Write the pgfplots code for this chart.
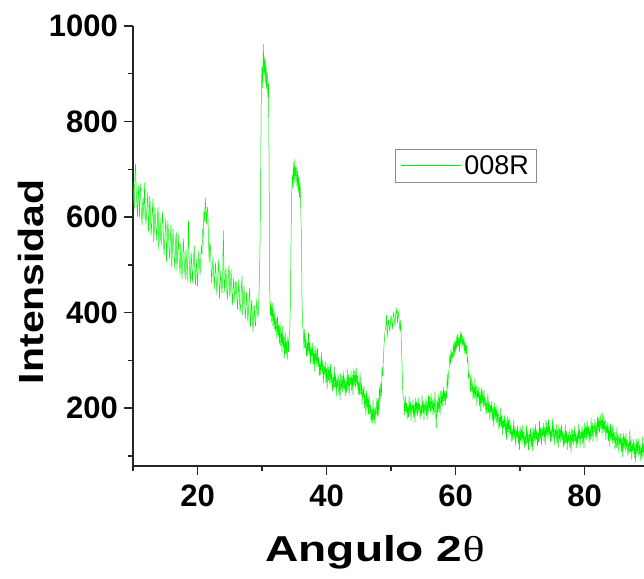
\documentclass[border=0pt]{standalone}
\usepackage{fontspec}
\setmainfont{Liberation Sans}
\newfontfamily\thetafont{Liberation Serif}
\usepackage{graphicx}
\usepackage{pgfplots}
\pgfplotsset{compat=1.18}
\definecolor{xrdgreen}{RGB}{0,245,0}

\begin{document}
\begin{tikzpicture}
\begin{axis}[
  scale only axis, width=511pt, height=440pt,
  xmin=10, xmax=89.2, ymin=79, ymax=1000,
  axis lines*=left,
  axis line style={line width=1.6pt, black!85},
  xtick={20,40,60,80}, ytick={200,400,600,800,1000},
  minor xtick={10,30,50,70}, minor ytick={100,300,500,700,900},
  tick align=outside,
  major tick length=9pt, minor tick length=5pt,
  every tick/.style={line width=1.4pt, black!85},
  scaled ticks=false,
  /pgf/number format/1000 sep={},
  /pgf/number format/assume math mode=true,
  ticklabel style={font=\bfseries\fontsize{31}{31}\selectfont, inner sep=0pt},
  yticklabel style={anchor=east, xshift=-6pt},
  xticklabel style={anchor=north, yshift=-10pt},
  xlabel={\scalebox{1.28}[1]{\bfseries\fontsize{36}{36}\selectfont Angulo 2{\mdseries\thetafont θ}}},
  ylabel={\scalebox{1.17}[1]{\bfseries\fontsize{35}{35}\selectfont Intensidad}},
  xlabel style={at={(axis description cs:0.4736,-0.218)}, anchor=base, inner sep=0pt},
  ylabel style={at={(axis description cs:-0.2,0.419)}, anchor=center, inner sep=0pt},
  legend style={at={(axis description cs:0.513,0.720)}, anchor=north west,
    draw=black!45, line width=0.8pt, fill=white,
    font=\mdseries\fontsize{27}{27}\selectfont,
    inner xsep=5pt, inner ysep=3pt, nodes={inner sep=3pt}},
  legend image code/.code={\draw[#1,line width=0.8pt] (0pt,0pt) -- (60pt,0pt);},
]
% diffractogram of sample 008R, intensity against 2theta
\addplot[xrdgreen, line width=0.5pt] coordinates {
(10.0,672)(10.1,640)(10.2,618)(10.3,690)(10.4,712)(10.5,655)(10.6,626)(10.7,601)(10.8,668)(10.9,645)
(11.0,598)(11.1,672)(11.2,655)(11.3,610)(11.4,583)(11.5,630)(11.6,640)(11.7,596)(11.8,672)(11.9,620)
(12.0,585)(12.1,604)(12.2,628)(12.3,652)(12.4,570)(12.5,598)(12.6,644)(12.7,612)(12.8,560)(12.9,585)
(13.0,615)(13.1,638)(13.2,548)(13.3,572)(13.4,622)(13.5,590)(13.6,575)(13.7,548)(13.8,604)(13.9,622)
(14.0,530)(14.1,566)(14.2,598)(14.3,552)(14.4,545)(14.5,590)(14.6,612)(14.7,560)(14.8,520)(14.9,548)
(15.0,575)(15.1,598)(15.2,505)(15.3,540)(15.4,592)(15.5,566)(15.6,530)(15.7,512)(15.8,560)(15.9,585)
(16.0,496)(16.1,530)(16.2,575)(16.3,548)(16.4,512)(16.5,490)(16.6,548)(16.7,570)(16.8,488)(16.9,515)
(17.0,566)(17.1,530)(17.2,502)(17.3,478)(17.4,545)(17.5,520)(17.6,470)(17.7,505)(17.8,555)(17.9,528)
(18.0,490)(18.1,470)(18.2,532)(18.3,512)(18.4,465)(18.5,520)(18.6,592)(18.7,515)(18.8,480)(18.9,462)
(19.0,527)(19.1,505)(19.2,462)(19.3,490)(19.4,518)(19.5,540)(19.6,475)(19.7,458)(19.8,512)(19.9,490)
(20.0,455)(20.1,488)(20.2,530)(20.3,505)(20.4,478)(20.5,512)(20.6,540)(20.7,522)(20.8,575)(20.9,560)
(21.0,612)(21.1,590)(21.2,640)(21.3,612)(21.4,585)(21.5,622)(21.6,610)(21.7,560)(21.8,505)(21.9,545)
(22.0,540)(22.1,498)(22.2,462)(22.3,495)(22.4,515)(22.5,478)(22.6,450)(22.7,482)(22.8,505)(22.9,470)
(23.0,438)(23.1,465)(23.2,492)(23.3,512)(23.4,430)(23.5,455)(23.6,488)(23.7,462)(23.8,440)(23.9,478)
(24.0,572)(24.1,490)(24.2,443)(24.3,470)(24.4,495)(24.5,462)(24.6,427)(24.7,450)(24.8,485)(24.9,500)
(25.0,433)(25.1,452)(25.2,490)(25.3,458)(25.4,415)(25.5,440)(25.6,473)(25.7,448)(25.8,420)(25.9,465)
(26.0,465)(26.1,430)(26.2,407)(26.3,440)(26.4,470)(26.5,428)(26.6,400)(26.7,418)(26.8,451)(26.9,478)
(27.0,395)(27.1,420)(27.2,457)(27.3,425)(27.4,387)(27.5,410)(27.6,443)(27.7,415)(27.8,380)(27.9,405)
(28.0,435)(28.1,452)(28.2,370)(28.3,398)(28.4,427)(28.5,395)(28.6,360)(28.7,385)(28.8,415)(28.9,382)
(29.0,372)(29.1,405)(29.2,430)(29.3,398)(29.4,392)(29.5,428)(29.6,470)(29.7,560)(29.8,700)
(29.9,880)(30.0,915)(30.1,870)(30.2,962)(30.3,900)(30.4,935)(30.5,880)(30.6,925)(30.7,868)(30.8,905)
(30.9,850)(31.0,880)(31.1,700)(31.2,430)(31.3,392)(31.4,425)(31.5,380)(31.6,420)(31.7,372)(31.8,405)
(31.9,365)(32.0,402)(32.1,360)(32.2,388)(32.3,345)(32.4,392)(32.5,350)(32.6,375)(32.7,335)(32.8,380)
(32.9,330)(33.0,362)(33.1,318)(33.2,372)(33.3,325)(33.4,350)(33.5,305)(33.6,358)(33.7,312)(33.8,340)
(33.9,300)(34.0,352)(34.1,318)(34.2,345)(34.3,365)(34.4,420)(34.5,560)
(34.6,650)(34.7,690)(34.8,660)(34.9,715)(35.0,672)(35.1,722)(35.2,680)(35.3,705)(35.4,665)
(35.5,698)(35.6,650)(35.7,688)(35.8,640)(35.9,672)(36.0,620)(36.1,560)(36.2,420)(36.3,372)
(36.4,360)(36.5,323)(36.6,365)(36.7,326)(36.8,346)(36.9,308)(37.0,337)(37.1,309)(37.2,357)(37.3,312)
(37.4,339)(37.5,292)(37.6,328)(37.7,309)(37.8,336)(37.9,291)(38.0,322)(38.1,277)(38.2,331)(38.3,294)
(38.4,322)(38.5,285)(38.6,326)(38.7,287)(38.8,307)(38.9,268)(39.0,297)(39.1,269)(39.2,317)(39.3,273)
(39.4,300)(39.5,253)(39.6,289)(39.7,270)(39.8,298)(39.9,253)(40.0,284)(40.1,240)(40.2,294)(40.3,258)
(40.4,286)(40.5,250)(40.6,292)(40.7,253)(40.8,274)(40.9,235)(41.0,265)(41.1,238)(41.2,287)(41.3,243)
(41.4,271)(41.5,225)(41.6,262)(41.7,244)(41.8,272)(41.9,228)(42.0,260)(42.1,217)(42.2,273)(42.3,238)
(42.4,268)(42.5,234)(42.6,277)(42.7,240)(42.8,263)(42.9,226)(43.0,257)(43.1,232)(43.2,283)(43.3,240)
(43.4,270)(43.5,226)(43.6,265)(43.7,249)(43.8,279)(43.9,236)(44.0,270)(44.1,227)(44.2,283)(44.3,248)
(44.4,278)(44.5,243)(44.6,285)(44.7,246)(44.8,267)(44.9,228)(45.0,257)(45.1,228)(45.2,275)(45.3,229)
(45.4,255)(45.5,207)(45.6,242)(45.7,221)(45.8,247)(45.9,200)(46.0,230)(46.1,184)(46.2,237)(46.3,199)
(46.4,226)(46.5,188)(46.6,228)(46.7,189)(46.8,208)(46.9,169)(47.0,197)(47.1,169)(47.2,217)(47.3,172)
(47.4,199)(47.5,165)(47.6,201)(47.7,188)(47.8,222)(47.9,183)(48.0,221)(48.1,182)(48.2,243)(48.3,215)
(48.4,252)(48.5,225)(48.6,286)(48.7,267)(48.8,300)(48.9,330)(49.0,350)
(49.1,365)(49.2,372)(49.3,395)(49.4,348)(49.5,368)(49.6,385)(49.7,372)(49.8,360)(49.9,378)(50.0,395)
(50.1,380)(50.2,365)(50.3,388)(50.4,402)(50.5,385)(50.6,372)(50.7,392)(50.8,410)(50.9,395)(51.0,378)
(51.1,402)(51.2,395)(51.3,372)(51.4,360)(51.5,385)(51.6,330)(51.7,290)(51.8,240)(51.9,220)
(52.0,218)(52.1,186)(52.2,225)(52.3,192)(52.4,212)(52.5,177)(52.6,205)(52.7,182)(52.8,226)(52.9,187)
(53.0,213)(53.1,173)(53.2,207)(53.3,192)(53.4,218)(53.5,179)(53.6,209)(53.7,170)(53.8,221)(53.9,189)
(54.0,216)(54.1,184)(54.2,223)(54.3,191)(54.4,211)(54.5,177)(54.6,205)(54.7,183)(54.8,228)(54.9,189)
(55.0,215)(55.1,175)(55.2,210)(55.3,195)(55.4,222)(55.5,183)(55.6,214)(55.7,175)(55.8,227)(55.9,195)
(56.0,223)(56.1,191)(56.2,231)(56.3,198)(56.4,218)(56.5,185)(56.6,213)(56.7,190)(56.8,235)(56.9,197)
(57.0,158)(57.1,215)(57.2,190)(57.3,230)(57.4,192)(57.5,223)(57.6,185)(57.7,237)(57.8,206)(57.9,234)
(58.0,204)(58.1,245)(58.2,215)(58.3,237)(58.4,206)(58.5,236)(58.6,220)(58.7,272)(58.8,241)(58.9,275)
(59.0,280)(59.1,312)(59.2,292)(59.3,325)(59.4,298)(59.5,318)(59.6,305)(59.7,338)(59.8,310)(59.9,342)
(60.0,318)(60.1,350)(60.2,322)(60.3,355)(60.4,330)(60.5,348)(60.6,318)(60.7,362)(60.8,335)(60.9,358)
(61.0,325)(61.1,352)(61.2,330)(61.3,348)(61.4,315)(61.5,340)(61.6,312)(61.7,332)(61.8,298)(61.9,305)
(62.0,262)(62.1,272)(62.2,268)(62.3,234)(62.4,271)(62.5,236)(62.6,254)(62.7,218)(62.8,245)(62.9,220)
(63.0,263)(63.1,222)(63.2,247)(63.3,205)(63.4,238)(63.5,221)(63.6,246)(63.7,205)(63.8,234)(63.9,193)
(64.0,243)(64.1,209)(64.2,235)(64.3,201)(64.4,239)(64.5,204)(64.6,222)(64.7,187)(64.8,213)(64.9,189)
(65.0,232)(65.1,191)(65.2,216)(65.3,174)(65.4,207)(65.5,190)(65.6,214)(65.7,174)(65.8,202)(65.9,162)
(66.0,211)(66.1,177)(66.2,203)(66.3,169)(66.4,207)(66.5,172)(66.6,191)(66.7,155)(66.8,182)(66.9,157)
(67.0,201)(67.1,161)(67.2,185)(67.3,144)(67.4,177)(67.5,160)(67.6,185)(67.7,145)(67.8,174)(67.9,133)
(68.0,183)(68.1,150)(68.2,176)(68.3,142)(68.4,180)(68.5,146)(68.6,165)(68.7,130)(68.8,156)(68.9,132)
(69.0,176)(69.1,136)(69.2,161)(69.3,121)(69.4,154)(69.5,138)(69.6,163)(69.7,123)(69.8,153)(69.9,113)
(70.0,163)(70.1,131)(70.2,157)(70.3,125)(70.4,164)(70.5,130)(70.6,150)(70.7,116)(70.8,143)(70.9,120)
(71.0,165)(71.1,126)(71.2,152)(71.3,112)(71.4,146)(71.5,131)(71.6,158)(71.7,119)(71.8,149)(71.9,110)
(72.0,161)(72.1,130)(72.2,157)(72.3,126)(72.4,166)(72.5,133)(72.6,154)(72.7,121)(72.8,149)(72.9,127)
(73.0,173)(73.1,135)(73.2,161)(73.3,122)(73.4,157)(73.5,142)(73.6,169)(73.7,131)(73.8,161)(73.9,123)
(74.0,175)(74.1,143)(74.2,170)(74.3,137)(74.4,176)(74.5,143)(74.6,163)(74.7,129)(74.8,156)(74.9,133)
(75.0,178)(75.1,138)(75.2,164)(75.3,123)(75.4,156)(75.5,140)(75.6,166)(75.7,126)(75.8,155)(75.9,116)
(76.0,166)(76.1,134)(76.2,160)(76.3,128)(76.4,166)(76.5,133)(76.6,152)(76.7,118)(76.8,145)(76.9,122)
(77.0,166)(77.1,127)(77.2,152)(77.3,112)(77.4,146)(77.5,130)(77.6,156)(77.7,117)(77.8,146)(77.9,107)
(78.0,158)(78.1,127)(78.2,154)(78.3,123)(78.4,162)(78.5,130)(78.6,150)(78.7,117)(78.8,145)(78.9,123)
(79.0,168)(79.1,130)(79.2,156)(79.3,117)(79.4,151)(79.5,137)(79.6,164)(79.7,125)(79.8,156)(79.9,117)
(80.0,169)(80.1,138)(80.2,165)(80.3,134)(80.4,173)(80.5,141)(80.6,162)(80.7,128)(80.8,157)(80.9,134)
(81.0,180)(81.1,142)(81.2,169)(81.3,129)(81.4,164)(81.5,150)(81.6,177)(81.7,139)(81.8,169)(81.9,131)
(82.0,183)(82.1,152)(82.2,180)(82.3,149)(82.4,189)(82.5,157)(82.6,178)(82.7,145)(82.8,190)(82.9,149)
(83.0,182)(83.1,151)(83.2,175)(83.3,133)(83.4,165)(83.5,148)(83.6,172)(83.7,131)(83.8,159)(83.9,118)
(84.0,168)(84.1,135)(84.2,161)(84.3,127)(84.4,165)(84.5,131)(84.6,150)(84.7,115)(84.8,142)(84.9,117)
(85.0,161)(85.1,121)(85.2,146)(85.3,106)(85.4,139)(85.5,123)(85.6,148)(85.7,108)(85.8,138)(85.9,98)
(86.0,148)(86.1,116)(86.2,142)(86.3,110)(86.4,148)(86.5,115)(86.6,134)(86.7,100)(86.8,127)(86.9,104)
(87.0,155)(87.1,108)(87.2,134)(87.3,93)(87.4,126)(87.5,111)(87.6,136)(87.7,96)(87.8,126)(87.9,86)
(88.0,136)(88.1,104)(88.2,131)(88.3,99)(88.4,138)(88.5,104)(88.6,124)(88.7,90)(88.8,118)(88.9,95)
(89.0,140)(89.1,101)(89.2,127)(89.3,87)
};
\addlegendentry{008R}
\end{axis}
\pgfresetboundingbox
\path (-133pt,-112pt) rectangle (511pt,466pt);
\end{tikzpicture}
\end{document}
